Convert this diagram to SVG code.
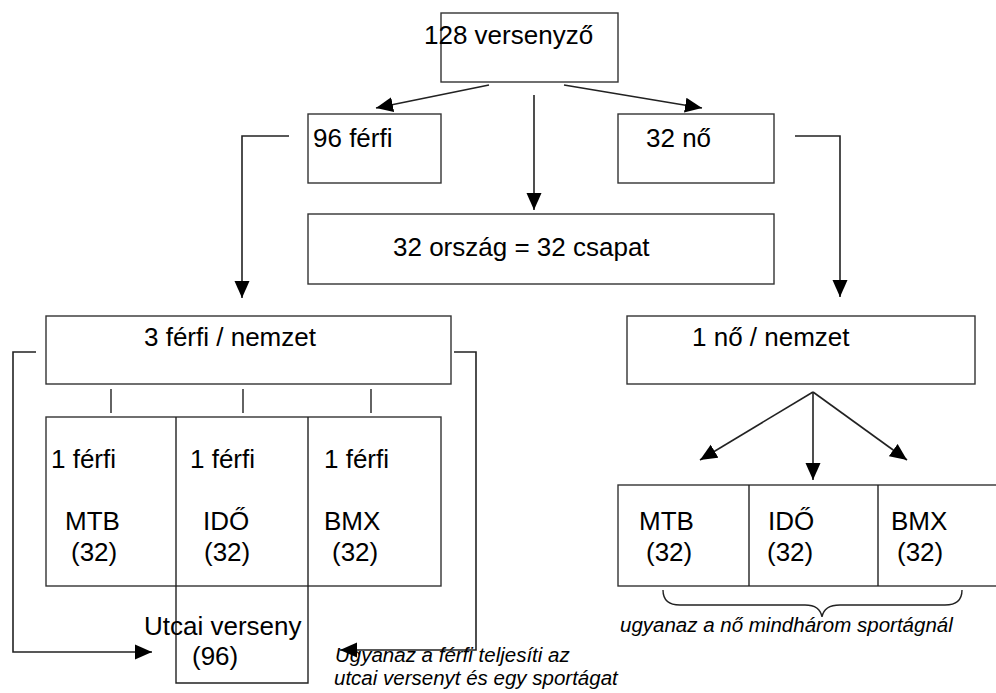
<svg xmlns="http://www.w3.org/2000/svg" width="996" height="693" viewBox="0 0 996 693">
<defs>
<marker id="ah" markerUnits="userSpaceOnUse" markerWidth="18" markerHeight="16" refX="17" refY="8" orient="auto">
<path d="M0,0.5 L17,8 L0,15.5 Z" fill="#000"/>
</marker>
<style>
.box{fill:#fff;stroke:#333;stroke-width:1.4}
.ln{fill:none;stroke:#222;stroke-width:1.4}
.ar{fill:none;stroke:#222;stroke-width:1.6;marker-end:url(#ah)}
text{font-family:"Liberation Sans",Arial,sans-serif;font-size:26px;fill:#000}
.it{font-style:italic;font-size:20.5px}
</style>
</defs>
<rect width="996" height="693" fill="#fff"/>
<g id="connectors">
<line class="ar" x1="489" y1="85" x2="376" y2="108"/>
<line class="ar" x1="564" y1="85" x2="702" y2="108"/>
<line class="ar" x1="534" y1="95" x2="534" y2="210"/>
<path class="ar" d="M289,136 H242 V298"/>
<path class="ar" d="M795,136 H840 V297"/>
<line class="ar" x1="813" y1="392" x2="700" y2="460"/>
<line class="ar" x1="813" y1="392" x2="813" y2="480"/>
<line class="ar" x1="813" y1="392" x2="907" y2="460"/>
<path class="ar" d="M36,352 H13 V652 H152"/>
<path class="ar" d="M454,352 H476 V650 H340"/>
<line class="ln" x1="111" y1="389" x2="111" y2="413"/>
<line class="ln" x1="243" y1="389" x2="243" y2="413"/>
<line class="ln" x1="371" y1="389" x2="371" y2="413"/>
<path class="ln" d="M663,590 Q663,605 680,605 H805 Q820,605 822,617 Q824,605 840,605 H945 Q962,605 962,590"/>
</g>
<g id="n-top"><rect class="box" x="441" y="13" width="177" height="69"/><text x="424" y="44">128 versenyző</text></g>
<g id="n-ferfi"><rect class="box" x="308" y="114" width="133" height="69"/><text x="313" y="147">96 férfi</text></g>
<g id="n-no"><rect class="box" x="618" y="114" width="156" height="69"/><text x="646" y="147">32 nő</text></g>
<g id="n-orszag"><rect class="box" x="308" y="214" width="466" height="70"/><text x="393" y="256">32 ország = 32 csapat</text></g>
<g id="n-3ferfi"><rect class="box" x="46" y="316" width="405" height="68"/><text x="144" y="346">3 férfi / nemzet</text></g>
<g id="n-1no"><rect class="box" x="627" y="316" width="348" height="68"/><text x="692" y="346">1 nő / nemzet</text></g>
<g id="n-men-sports">
<rect class="box" x="46" y="417" width="395" height="169"/>
<path class="ln" d="M176,417 V683 H308 V417"/>
<text x="51" y="468">1 férfi</text><text x="190" y="468">1 férfi</text><text x="324" y="468">1 férfi</text>
<text x="65" y="530">MTB</text><text x="71" y="561">(32)</text>
<text x="203" y="530">IDŐ</text><text x="204" y="561">(32)</text>
<text x="324" y="530">BMX</text><text x="332" y="561">(32)</text>
</g>
<g id="n-utcai">
<text x="144" y="635">Utcai verseny</text><text x="192" y="665">(96)</text>
</g>
<g id="n-women-sports">
<rect class="box" x="618" y="485" width="400" height="101"/>
<line class="ln" x1="749" y1="485" x2="749" y2="586"/>
<line class="ln" x1="878" y1="485" x2="878" y2="586"/>
<text x="639" y="530">MTB</text><text x="646" y="561">(32)</text>
<text x="768" y="530">IDŐ</text><text x="767" y="561">(32)</text>
<text x="891" y="530">BMX</text><text x="897" y="561">(32)</text>
</g>
<g id="notes">
<text class="it" x="620" y="632">ugyanaz a nő mindhárom sportágnál</text>
<text class="it" x="335" y="662">Ugyanaz a férfi teljesíti az</text>
<text class="it" x="334" y="685">utcai versenyt és egy sportágat</text>
</g>
</svg>
